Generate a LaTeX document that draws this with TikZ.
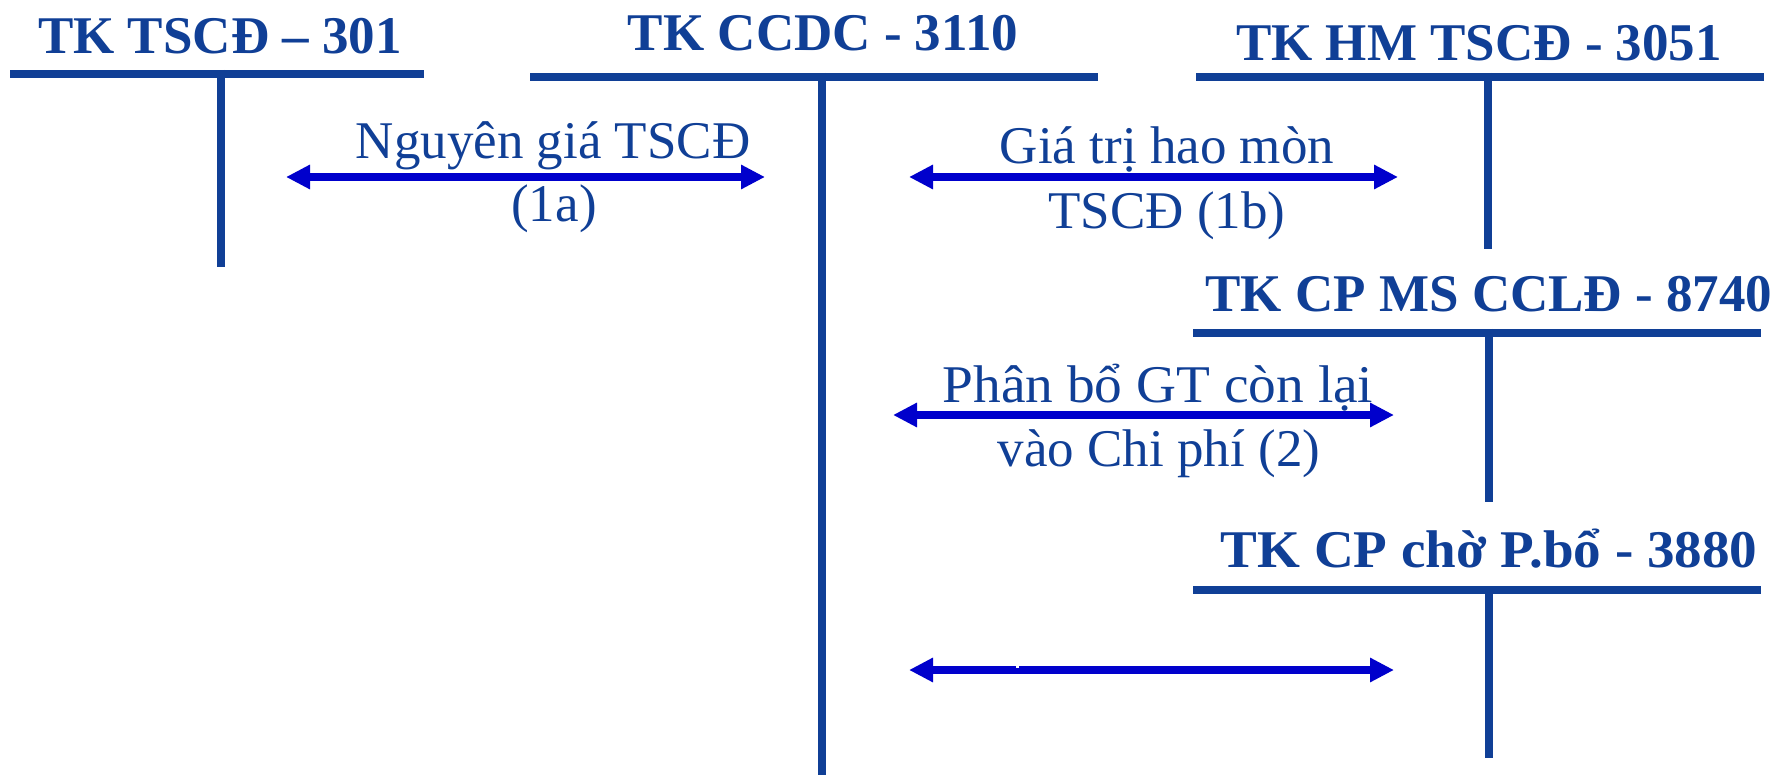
\documentclass[tikz,border=0pt]{standalone}
\usepackage{fontspec}
\setmainfont{Liberation Serif}
\usetikzlibrary{arrows.meta}
\definecolor{acct}{RGB}{16,63,150}
\definecolor{flow}{RGB}{0,0,204}

\begin{document}
\begin{tikzpicture}[x=1pt,y=-1pt,
  hbar/.style={draw=acct, line width=8pt},
  vbar/.style={draw=acct, line width=7.5pt},
  ttitle/.style={text=acct, font=\fontsize{53}{60}\selectfont\bfseries, anchor=base, inner sep=0pt},
  flowarrow/.style={draw=flow, line width=8pt,
    {Triangle[length=24pt,width=23pt]}-{Triangle[length=24pt,width=23pt]}},
  flowlabel/.style={text=acct, font=\fontsize{53}{60}\selectfont, anchor=base, inner sep=0pt}]
\useasboundingbox (0,0) rectangle (1777,775);

% ---- T-accounts: ends of the top bar and of the stem ----
\coordinate (t1L) at (10,74);   \coordinate (t1R) at (424,74);
\coordinate (t1T) at (221,70);  \coordinate (t1B) at (221,267);
\coordinate (t2L) at (530,77);  \coordinate (t2R) at (1098,77);
\coordinate (t2T) at (822,73);  \coordinate (t2B) at (822,775);
\coordinate (t3L) at (1196,77); \coordinate (t3R) at (1764,77);
\coordinate (t3T) at (1488,73); \coordinate (t3B) at (1488,249);
\coordinate (t4L) at (1193,333); \coordinate (t4R) at (1761,333);
\coordinate (t4T) at (1489,329); \coordinate (t4B) at (1489,502);
\coordinate (t5L) at (1193,590); \coordinate (t5R) at (1761,590);
\coordinate (t5T) at (1489,586); \coordinate (t5B) at (1489,758);

\foreach \t in {t1,t2,t3,t4,t5}{
  \draw[hbar] (\t L) -- (\t R);
  \draw[vbar] (\t T) -- (\t B);
}

% ---- account titles ----
\node[ttitle] (h1) at (220,54)  {TK TSCĐ – 301};
\node[ttitle] (h2) at (823,51)  {TK CCDC - 3110};
\node[ttitle] (h3) at (1479,61) {TK HM TSCĐ - 3051};
\node[ttitle] (h4) at (1489,312) {TK CP MS CCLĐ - 8740};
\node[ttitle] (h5) at (1489,567) {\scalebox{1.04}[1]{TK CP chờ P.bổ - 3880}};

% ---- transfer arrows ----
\coordinate (a1L) at (286,177);  \coordinate (a1R) at (765,177);
\coordinate (b1L) at (909,177);  \coordinate (b1R) at (1398,177);
\coordinate (a2L) at (893,415);  \coordinate (a2R) at (1394,415);
\coordinate (a3L) at (909,670);  \coordinate (a3R) at (1394,670);
\draw[flowarrow] (a1L) -- (a1R);
\draw[flowarrow] (b1L) -- (b1R);
\draw[flowarrow] (a2L) -- (a2R);
\draw[flowarrow] (a3L) -- (a3R);
\fill[white] (1016,664.5) rectangle (1019,668);

% ---- arrow labels ----
\node[flowlabel] (l1a) at (553,159)  {Nguyên giá TSCĐ};
\node[flowlabel] (l1b) at (554,222)  {(1a)};
\node[flowlabel] (m1a) at (1167,164) {Giá trị hao mòn};
\node[flowlabel] (m1b) at (1167,229) {TSCĐ (1b)};
\node[flowlabel] (p2a) at (1158,402) {\scalebox{1.045}[1]{Phân bổ GT còn lại}};
\node[flowlabel] (p2b) at (1159,466) {vào Chi phí (2)};
\end{tikzpicture}
\end{document}
